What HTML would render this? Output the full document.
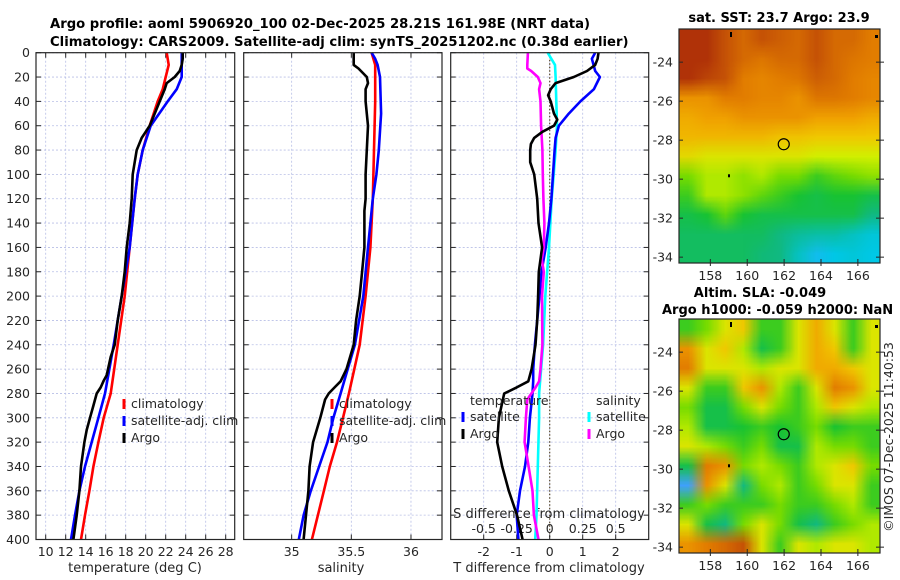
<!DOCTYPE html>
<html><head><meta charset="utf-8">
<style>
html,body{margin:0;padding:0;background:#fff;}
#wrap{position:relative;width:900px;height:580px;overflow:hidden;font-family:"DejaVu Sans","Liberation Sans",sans-serif;}
canvas{position:absolute;}
svg{position:absolute;left:0;top:0;}
</style></head>
<body>
<div id="wrap">
<canvas id="sstMap" style="left:679px;top:29px;width:201px;height:234px" width="201" height="234"></canvas>
<canvas id="slaMap" style="left:679px;top:319px;width:201px;height:234px" width="201" height="234"></canvas>
<svg id="fig" width="900" height="580"></svg>
</div>
<script>
// ---------- data ----------
const depthTicks = [0,20,40,60,80,100,120,140,160,180,200,220,240,260,280,300,320,340,360,380,400];
const tempTicks = [10,12,14,16,18,20,22,24,26,28];
const salTicks = [35,35.5,36];
const salTickLabels = ["35","35.5","36"];
const tDiffTicks = [-2,-1,0,1,2];
const sDiffTicks = [-0.5,-0.25,0,0.25,0.5];
const sDiffTickLabels = ["-0.5","-0.25","0","0.25","0.5"];
const lonTicks = [158,160,162,164,166];
const latTicks = [-24,-26,-28,-30,-32,-34];

const tClimDepth = [0,10,20,30,40,60,80,100,120,160,200,240,280,300,320,340,360,380,400];
const tClimVal = [22.1,22.3,22.0,21.7,21.2,20.4,19.7,19.2,18.9,18.4,17.9,17.2,16.5,15.8,15.27,14.77,14.37,13.93,13.53];
const tSatDepth = [0,10,20,30,40,60,80,100,120,160,200,240,280,300,320,340,360,380,400];
const tSatVal = [23.6,23.6,23.6,23.1,22.2,20.5,19.7,19.2,18.9,18.4,17.6,16.8,15.93,15.27,14.6,13.93,13.37,12.93,12.53];
const tArgoDepth = [0,5,10,15,20,25,30,40,50,60,65,70,80,90,100,120,140,160,180,200,220,240,250,265,270,275,280,290,300,310,320,330,340,360,380,400];
const tArgoVal = [23.7,23.7,23.6,23.4,22.9,22.1,21.9,21.4,20.9,20.4,20.0,19.6,19.1,18.9,18.7,18.6,18.4,18.1,17.9,17.6,17.2,16.9,16.5,16.1,15.77,15.5,15.1,14.77,14.43,14.1,13.87,13.7,13.53,13.37,13.1,12.77];

const sClimDepth = [0,10,40,80,120,160,200,240,280,300,320,340,360,380,400];
const sClimVal = [35.67,35.70,35.70,35.69,35.68,35.66,35.62,35.57,35.48,35.43,35.38,35.32,35.27,35.22,35.17];
const sSatDepth = [0,5,10,20,50,80,100,120,160,200,240,260,280,300,320,340,360,380,400];
const sSatVal = [35.67,35.70,35.72,35.74,35.75,35.73,35.71,35.68,35.64,35.60,35.53,35.47,35.41,35.35,35.30,35.23,35.16,35.10,35.06];
const sArgoDepth = [0,10,13,20,25,30,40,50,60,80,100,120,130,140,160,180,200,220,240,260,270,275,280,285,300,320,340,360,380,400];
const sArgoVal = [35.52,35.52,35.56,35.63,35.64,35.62,35.62,35.63,35.64,35.63,35.62,35.62,35.61,35.61,35.61,35.59,35.57,35.54,35.52,35.46,35.41,35.36,35.31,35.28,35.24,35.18,35.15,35.14,35.12,35.10];

const dTSatDepth = [0,5,15,20,30,40,50,60,70,80,120,140,160,180,200,220,240,260,270,280,300,320,340,360,380,400];
const dTSatVal = [1.38,1.28,1.38,1.52,1.34,0.93,0.58,0.28,0.18,0.15,0.05,-0.02,-0.12,-0.25,-0.31,-0.38,-0.45,-0.5,-0.5,-0.52,-0.6,-0.65,-0.75,-0.9,-1.0,-0.95];
const dTArgoDepth = [0,5,10,15,20,25,30,35,40,50,55,60,65,70,75,80,90,100,120,140,160,180,200,220,240,260,270,275,280,300,320,340,360,380,400];
const dTArgoVal = [1.48,1.45,1.38,1.13,0.73,0.18,0.03,-0.05,0.03,0.13,0.23,0.13,-0.22,-0.47,-0.57,-0.59,-0.59,-0.47,-0.38,-0.34,-0.23,-0.33,-0.35,-0.38,-0.43,-0.55,-0.65,-1.0,-1.38,-1.54,-1.59,-1.44,-1.24,-0.99,-0.82];
const dSSatDepth = [0,10,20,40,60,80,100,120,160,200,240,280,300,340,380,400];
const dSSatVal = [-0.015,0.04,0.045,0.05,0.055,0.045,0.03,0.015,-0.005,-0.033,-0.05,-0.08,-0.08,-0.09,-0.1,-0.11];
const dSArgoDepth = [0,10,13,15,20,25,30,40,60,80,100,120,140,160,170,180,200,240,260,270,275,285,300,320,340,360,380,400];
const dSArgoVal = [-0.165,-0.17,-0.17,-0.14,-0.09,-0.07,-0.08,-0.07,-0.065,-0.055,-0.052,-0.048,-0.04,-0.045,-0.06,-0.045,-0.058,-0.055,-0.07,-0.08,-0.107,-0.17,-0.18,-0.19,-0.16,-0.13,-0.12,-0.085];

const sstGrid = [
[0.95,0.95,0.9,0.85,0.9,0.88,0.85,0.9,0.85,0.85,0.8],
[0.95,0.95,0.9,0.85,0.82,0.85,0.85,0.9,0.85,0.82,0.8],
[0.95,0.92,0.9,0.8,0.78,0.8,0.82,0.88,0.85,0.8,0.78],
[0.75,0.75,0.8,0.8,0.78,0.78,0.75,0.82,0.82,0.8,0.78],
[0.7,0.72,0.72,0.75,0.75,0.75,0.75,0.72,0.72,0.72,0.7],
[0.68,0.68,0.68,0.68,0.68,0.66,0.66,0.65,0.65,0.65,0.65],
[0.62,0.6,0.6,0.6,0.6,0.6,0.6,0.58,0.58,0.58,0.58],
[0.5,0.55,0.55,0.52,0.55,0.5,0.5,0.45,0.48,0.5,0.52],
[0.45,0.55,0.55,0.52,0.48,0.45,0.42,0.4,0.42,0.42,0.4],
[0.4,0.42,0.48,0.42,0.4,0.4,0.4,0.4,0.4,0.4,0.35],
[0.38,0.38,0.38,0.38,0.38,0.35,0.33,0.32,0.32,0.3,0.28],
[0.38,0.38,0.38,0.38,0.36,0.35,0.3,0.25,0.27,0.28,0.27]];
const slaGrid = [
[0.45,0.5,0.6,0.65,0.45,0.45,0.6,0.7,0.6,0.45,0.6],
[0.75,0.6,0.65,0.55,0.4,0.45,0.6,0.7,0.65,0.45,0.6],
[0.8,0.6,0.6,0.6,0.55,0.6,0.6,0.7,0.7,0.65,0.6],
[0.6,0.45,0.45,0.65,0.75,0.55,0.45,0.6,0.8,0.75,0.6],
[0.5,0.4,0.4,0.5,0.6,0.5,0.45,0.55,0.65,0.6,0.55],
[0.55,0.4,0.4,0.42,0.45,0.42,0.45,0.5,0.42,0.45,0.45],
[0.6,0.55,0.5,0.45,0.5,0.4,0.4,0.55,0.5,0.5,0.45],
[0.4,0.8,0.75,0.5,0.55,0.5,0.45,0.55,0.6,0.65,0.5],
[0.2,0.75,0.6,0.35,0.5,0.55,0.45,0.5,0.6,0.6,0.45],
[0.45,0.5,0.45,0.45,0.45,0.5,0.45,0.45,0.5,0.55,0.45],
[0.6,0.4,0.35,0.5,0.6,0.5,0.4,0.35,0.45,0.5,0.55],
[0.75,0.8,0.85,0.9,0.6,0.45,0.6,0.55,0.6,0.6,0.55]];
const argoLon = [161.98];
const argoLat = [-28.21];

// ---------- helpers ----------
const NS = "http://www.w3.org/2000/svg";
const svg = document.getElementById('fig');
function mk(tag, attrs, parent){ const e=document.createElementNS(NS,tag); for(const k in attrs) e.setAttribute(k,attrs[k]); (parent||svg).appendChild(e); return e; }
function txt(x,y,s,attrs,parent){ const e=mk('text',Object.assign({x:x,y:y,'font-size':12.5,fill:'#262626'},attrs||{}),parent); e.textContent=s; return e; }

const yTop=52.7, yBot=539.5;
function yD(d){ return yTop + (d/400)*(yBot-yTop); }
function linScale(d0,d1,r0,r1){ return v => r0 + (v-d0)/(d1-d0)*(r1-r0); }

const panels = [
 {name:'temperature-panel', x0:36, x1:234.7, dom:[9.03,28.9]},
 {name:'salinity-panel', x0:243.7, x1:442, dom:[34.598,36.26]},
 {name:'difference-panel', x0:450.7, x1:648.7, dom:[-3,3]}
];
panels.forEach(p=>{ p.sx = linScale(p.dom[0],p.dom[1],p.x0,p.x1); });

function frame(p, gridVals){
  const g = mk('g',{});
  
  
  gridVals.forEach(v=>{ const x=p.sx(v); const l=mk('line',{x1:x,x2:x,y1:yTop,y2:yBot,stroke:'#b8bfe6','stroke-width':0.8,'stroke-dasharray':'2,2'},g);
      });
  depthTicks.forEach(d=>{ const y=yD(d); const l=mk('line',{x1:p.x0,x2:p.x1,y1:y,y2:y,stroke:'#b8bfe6','stroke-width':0.8,'stroke-dasharray':'2,2'},g);
     
    mk('line',{x1:p.x0,x2:p.x0+5,y1:y,y2:y,stroke:'#262626','stroke-width':1},g);
    mk('line',{x1:p.x1-5,x2:p.x1,y1:y,y2:y,stroke:'#262626','stroke-width':1},g);
  });
  return g;
}
function border(p,g){ const r=mk('rect',{x:p.x0,y:yTop,width:p.x1-p.x0,height:yBot-yTop,fill:'none',stroke:'#262626','stroke-width':1.2},g);
    }
function line(p,g,depths,vals,color,name,scale){
  const sx = scale || p.sx;
  const pts = depths.map((d,i)=>sx(vals[i]).toFixed(1)+','+yD(d).toFixed(1)).join(' ');
  const l = mk('polyline',{points:pts,fill:'none',stroke:color,'stroke-width':2.6,'stroke-linejoin':'round'},g);
  
  
}
function legendItem(g,x,y,color,label){
  const it = mk('g',{},g);
  
  
  mk('line',{x1:x,x2:x,y1:y-9,y2:y+1,stroke:color,'stroke-width':3},it);
  txt(x+7,y,label,{'font-size':12.5},it);
}

// titles
const t1 = txt(50,28,'Argo profile: aoml 5906920_100 02-Dec-2025 28.21S 161.98E (NRT data)',{'font-weight':'bold','font-size':13.2,fill:'#000'});
 
const t2 = txt(50,46,'Climatology: CARS2009. Satellite-adj clim: synTS_20251202.nc (0.38d earlier)',{'font-weight':'bold','font-size':13.2,fill:'#000'});
 

// Panel 1
{
 const p=panels[0]; const g=frame(p,tempTicks);
 depthTicks.forEach(d=>{ const e=txt(30,yD(d)+4.5,String(d),{'text-anchor':'end'},g);   });
 tempTicks.forEach(v=>{ const x=p.sx(v); mk('line',{x1:x,x2:x,y1:yBot,y2:yBot-5,stroke:'#262626'},g); mk('line',{x1:x,x2:x,y1:yTop,y2:yTop+5,stroke:'#262626'},g);
   const e=txt(x,556,String(v),{'text-anchor':'middle'},g);   });
 const xl=txt(135,572,'temperature (deg C)',{'text-anchor':'middle','font-size':13},g);  
 line(p,g,tClimDepth,tClimVal,'#ff0000','line-temperature-climatology');
 line(p,g,tSatDepth,tSatVal,'#0000ff','line-temperature-satellite-adj');
 line(p,g,tArgoDepth,tArgoVal,'#000000','line-temperature-argo');
 border(p,g);
 const lg=mk('g',{},g);  
 legendItem(lg,124,408,'#ff0000','climatology');
 legendItem(lg,124,425,'#0000ff','satellite-adj. clim');
 legendItem(lg,124,442,'#000000','Argo');
}
// Panel 2
{
 const p=panels[1]; const g=frame(p,salTicks);
 salTicks.forEach((v,i)=>{ const x=p.sx(v); mk('line',{x1:x,x2:x,y1:yBot,y2:yBot-5,stroke:'#262626'},g); mk('line',{x1:x,x2:x,y1:yTop,y2:yTop+5,stroke:'#262626'},g);
   const e=txt(x,556,salTickLabels[i],{'text-anchor':'middle'},g);   });
 const xl=txt(341,572,'salinity',{'text-anchor':'middle','font-size':13},g);  
 line(p,g,sClimDepth,sClimVal,'#ff0000','line-salinity-climatology');
 line(p,g,sSatDepth,sSatVal,'#0000ff','line-salinity-satellite-adj');
 line(p,g,sArgoDepth,sArgoVal,'#000000','line-salinity-argo');
 border(p,g);
 const lg=mk('g',{},g);  
 legendItem(lg,332,408,'#ff0000','climatology');
 legendItem(lg,332,425,'#0000ff','satellite-adj. clim');
 legendItem(lg,332,442,'#000000','Argo');
}
// Panel 3
{
 const p=panels[2]; const g=frame(p,tDiffTicks);
 const sS = linScale(-0.75,0.75,p.x0,p.x1);
 const z=p.sx(0); const zl=mk('line',{x1:z,x2:z,y1:yTop,y2:yBot,stroke:'#5a4a2a','stroke-width':1.2,'stroke-dasharray':'1.5,2'},g);
  
 tDiffTicks.forEach(v=>{ const x=p.sx(v); mk('line',{x1:x,x2:x,y1:yBot,y2:yBot-5,stroke:'#262626'},g);
   const e=txt(x,556,String(v),{'text-anchor':'middle'},g);   });
 sDiffTicks.forEach((v,i)=>{ const x=sS(v);
   const e=txt(x,533,sDiffTickLabels[i],{'text-anchor':'middle'},g);   });
 const sl=txt(549,518,'S difference from climatology',{'text-anchor':'middle','font-size':13},g);  
 const xl=txt(549,572,'T difference from climatology',{'text-anchor':'middle','font-size':13},g);  
 line(p,g,dSSatDepth,dSSatVal,'#00ffff','line-s-diff-satellite',sS);
 line(p,g,dTSatDepth,dTSatVal,'#0000ff','line-t-diff-satellite');
 line(p,g,dSArgoDepth,dSArgoVal,'#ff00ff','line-s-diff-argo',sS);
 line(p,g,dTArgoDepth,dTArgoVal,'#000000','line-t-diff-argo');
 border(p,g);
 const lg=mk('g',{},g);  
 txt(470,405,'temperature',{},lg); txt(596,405,'salinity',{},lg);
 legendItem(lg,463,421,'#0000ff','satellite');
 legendItem(lg,463,438,'#000000','Argo');
 legendItem(lg,589,421,'#00ffff','satellite');
 legendItem(lg,589,438,'#ff00ff','Argo');
}

// ---------- maps ----------
const cmapStops = [[0.2,[64,160,255]],[0.27,[0,200,230]],[0.35,[16,185,130]],[0.42,[24,195,50]],[0.5,[120,220,0]],[0.58,[210,240,0]],[0.65,[240,200,0]],[0.72,[240,160,0]],[0.8,[226,125,0]],[0.88,[205,95,5]],[0.95,[176,50,8]]];
function cmap(v){
  if(v<=cmapStops[0][0]) return cmapStops[0][1];
  for(let i=1;i<cmapStops.length;i++){ if(v<=cmapStops[i][0]){ const a=cmapStops[i-1],b=cmapStops[i]; const t=(v-a[0])/(b[0]-a[0]); return a[1].map((c,k)=>Math.round(c+(b[1][k]-c)*t)); } }
  return cmapStops[cmapStops.length-1][1];
}
function drawMap(id,grid){
  const cv=document.getElementById(id), ctx=cv.getContext('2d');
  const rows=grid.length, cols=grid[0].length;
  const off=document.createElement('canvas'); off.width=cols; off.height=rows;
  const oc=off.getContext('2d'); const img=oc.createImageData(cols,rows);
  grid.forEach((r,i)=>r.forEach((v,j)=>{ const c=cmap(v); const k=(i*cols+j)*4; img.data[k]=c[0];img.data[k+1]=c[1];img.data[k+2]=c[2];img.data[k+3]=255; }));
  oc.putImageData(img,0,0);
  ctx.imageSmoothingEnabled=true;
  const cw=cv.width/cols, ch=cv.height/rows;
  ctx.drawImage(off,0,0,cols,rows,0,0,cv.width,cv.height);
  ctx.drawImage(off,0.5,0.5,cols-1,rows-1,cw/2,ch/2,cv.width-cw,cv.height-ch);
}
drawMap('sstMap',sstGrid);
drawMap('slaMap',slaGrid);

const maps = [
 {name:'sst-map-axes', y0:29, y1:263},
 {name:'sla-map-axes', y0:319, y1:553}
];
const mx0=679, mx1=880, lon0=156.3, lon1=167.2, lat0=-22.3, lat1=-34.3;
const sLon = linScale(lon0,lon1,mx0,mx1);
maps.forEach(m=>{
  const sLat = linScale(lat0,lat1,m.y0,m.y1);
  const g=mk('g',{});  
  mk('rect',{x:mx0,y:m.y0,width:mx1-mx0,height:m.y1-m.y0,fill:'none',stroke:'#262626','stroke-width':1.2},g);
  latTicks.forEach(v=>{ const y=sLat(v); mk('line',{x1:mx0,x2:mx0+4,y1:y,y2:y,stroke:'#262626'},g); mk('line',{x1:mx1-4,x2:mx1+4,y1:y,y2:y,stroke:'#262626'},g);
    const e=txt(673,y+4.5,String(v),{'text-anchor':'end'},g);   });
  lonTicks.forEach(v=>{ const x=sLon(v); mk('line',{x1:x,x2:x,y1:m.y1-4,y2:m.y1+3,stroke:'#262626'},g);
    const e=txt(x,m.y1+17,String(v),{'text-anchor':'middle'},g);   });
  argoLon.forEach((lo,i)=>{ const c=mk('circle',{cx:sLon(lo),cy:sLat(argoLat[i]),r:5.5,fill:'none',stroke:'#000','stroke-width':1.2},g);
      });
  mk('rect',{x:730,y:m.y0+3,width:2,height:5,fill:'#000'},g);
  mk('rect',{x:875,y:m.y0+6,width:3,height:3,fill:'#000'},g);
  mk('rect',{x:728,y:sLat(-29.75),width:2,height:3,fill:'#000'},g);
});
const st=txt(779,22,'sat. SST: 23.7 Argo: 23.9',{'text-anchor':'middle','font-weight':'bold','font-size':13,fill:'#000'});
 
const sa=txt(760,297,'Altim. SLA: -0.049',{'text-anchor':'middle','font-weight':'bold','font-size':13,fill:'#000'});
 
const sb=txt(662,314,'Argo h1000: -0.059 h2000: NaN',{'font-weight':'bold','font-size':13,fill:'#000'});
 
const cp=txt(0,0,'©IMOS 07-Dec-2025 11:40:53',{'text-anchor':'middle','font-size':12.5,transform:'translate(893,437) rotate(-90)'});
 
</script>
</body></html>
